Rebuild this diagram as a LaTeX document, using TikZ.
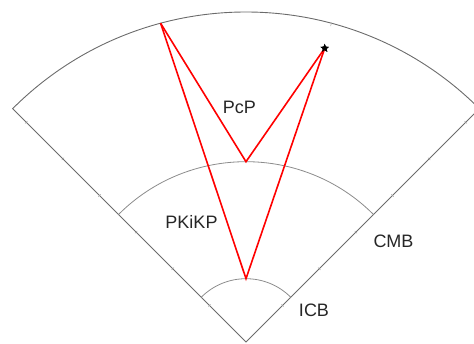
\documentclass[tikz,border=0pt]{standalone}
\usepackage{fontspec}
\setmainfont{Liberation Sans}
\usetikzlibrary{shapes.geometric}

\begin{document}
\begin{tikzpicture}[x=1pt,y=1pt]
  % some styles
  \tikzset{
    shell/.style={
      line width=0.9pt,
      draw=black!58
    }
  }
  \tikzset{
    layer/.style={
      line width=0.8pt,
      draw=black!45
    }
  }
  \tikzset{ticmark/.style={line width=0.5pt,draw=black!35}}
  \tikzset{ray/.style={line width=1.6pt,draw=red,line join=miter}}
  \tikzset{phase/.style={font=\fontsize{18}{20}\selectfont,inner sep=0pt,text=black!85}}
  \tikzset{quake/.style={star,star points=5,star point ratio=2.3,fill=black,inner sep=0pt,minimum size=9pt}}

  \useasboundingbox (-246,-1) rectangle (228,342);

  % radii, 6371 km -> 330pt
  \def\rE{330}
  \def\rC{180.3}
  \def\rI{63.3}
  \def\rS{304.1}

  % the wedge and the two core boundaries
  \draw[shell] (0,0) -- (135:\rE) arc (135:45:\rE) -- cycle;
  \draw[layer] (135:\rC) arc (135:45:\rC);
  \draw[layer] (135:\rI) arc (135:45:\rI);

  % depth ticks every 1000 km
  \foreach \k in {1,...,6} {
    \draw[ticmark] (135:\k*51.8) ++(45:-1.6) -- ++(45:3.2);
    \draw[ticmark] (45:\k*51.8) ++(135:-1.6) -- ++(135:3.2);
  }
  \foreach \a in {75,105} {
    \draw[ticmark] (\a:\rE+0.5) -- (\a:\rE-3);
  }

  \coordinate (rcv) at (105:\rE);
  \coordinate (cmbhit) at (90:\rC);
  \coordinate (icbhit) at (90:\rI);
  \node[quake] (src) at (75:\rS) {};

  % rays
  \draw[ray] (rcv) -- (cmbhit) -- (src.center);
  \draw[ray] (rcv) -- (icbhit) -- (src.center);
  \node[quake] at (src) {};

  \node[phase] (pcp) at (-6.5,235) {PcP};
  \node[phase] (pkikp) at (-54.5,120) {PKiKP};
  \node[phase] (cmb) at (147.5,100.5) {CMB};
  \node[phase] (icb) at (68,32) {ICB};

\end{tikzpicture}
\end{document}
